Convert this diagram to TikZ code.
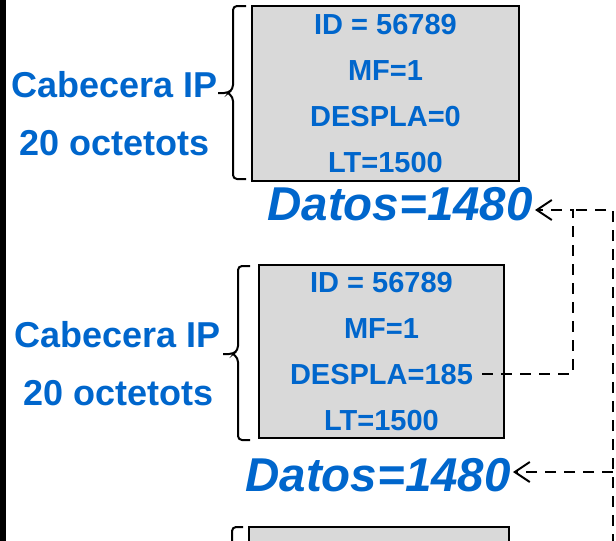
\documentclass[tikz,border=0pt]{standalone}
\usepackage{fontspec}
\setmainfont{Liberation Sans}
\usetikzlibrary{arrows.meta}
\definecolor{ipblue}{HTML}{0066CC}
\definecolor{hdrgray}{HTML}{D9D9D9}
\begin{document}
\begin{tikzpicture}[x=1pt,y=-1pt,
  pkt/.style={draw, fill=hdrgray, line width=2.2pt, inner sep=0pt},
  fld/.style={text=ipblue, font=\bfseries\fontsize{29}{29}\selectfont, inner sep=0pt, anchor=base},
  lbl/.style={text=ipblue, font=\bfseries\fontsize{36}{36}\selectfont, inner sep=0pt, anchor=base},
  datos/.style={text=ipblue, font=\bfseries\itshape\fontsize{47.5}{47.5}\selectfont, inner xsep=2pt, inner ysep=0pt, anchor=base east},
  link/.style={dash pattern=on 11pt off 8pt, line width=2pt},
  hdrbrace/.style={line width=2pt, rounded corners=4pt}]
  \clip (0,0) rectangle (616,541);
  \fill (0,0) rectangle (6,541);
  % first fragment
  \node[pkt, minimum width=267pt, minimum height=175pt] (hdr1) at (385.5,93.5) {};
  \foreach \t [count=\i] in {ID = 56789,MF=1,DESPLA=0,LT=1500}
    \node[fld] (a\i) at (385.5,{34+46*(\i-1)}) {\t};
  \node[lbl] (cab1) at (115,97) {Cabecera IP};
  \node[lbl] (oct1) at (114.5,155) {20 octetots};
  \draw[hdrbrace] (246,6) -| (233,89) -- (228,93) -- (218,93);
  \draw[hdrbrace] (228,93) -- (233,97) |- (246,179);
  \node[datos] (dat1) at (535,220) {Datos=1480};
  % second fragment
  \node[pkt, minimum width=245pt, minimum height=173pt] (hdr2) at (381.5,351.5) {};
  \foreach \t [count=\i] in {ID = 56789,MF=1,DESPLA=185,LT=1500}
    \node[fld] (b\i) at (381.5,{292+46*(\i-1)}) {\t};
  \node[lbl] (cab2) at (118,347) {Cabecera IP};
  \node[lbl] (oct2) at (119,405) {20 octetots};
  \draw[hdrbrace] (250,266) -| (238,350) -- (233,354) -- (223,354);
  \draw[hdrbrace] (233,354) -- (238,358) |- (250,440);
  \node[datos] (dat2) at (513,491) {Datos=1480};
  % third fragment (cut off)
  \node[pkt, minimum width=260pt, minimum height=175pt] (hdr3) at (379,614.5) {};
  \draw[hdrbrace] (243,527) -| (232,600);
  % offsets
  \coordinate (j1) at (573,210);
  \coordinate (j2) at (613,210);
  \coordinate (j3) at (613,472);
  \coordinate (jb) at (613,545);
  \draw[link, -{Straight Barb[length=15pt,width=20pt]}] ([xshift=9pt]b3.east) -| (j1) -- (dat1.east |- j1);
  \draw[link] (jb) -- (j2) -- (j1);
  \draw[link, -{Straight Barb[length=15pt,width=20pt]}] (j3) -- (dat2.east |- j3);
\end{tikzpicture}
\end{document}
